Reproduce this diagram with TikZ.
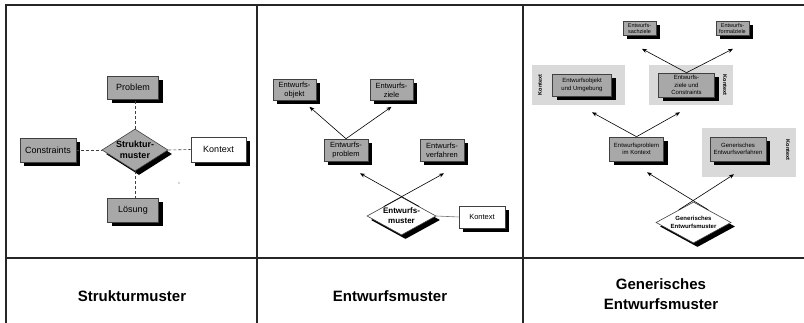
\documentclass[tikz,border=0pt]{standalone}
\usepackage{fontspec}
\setmainfont{Liberation Sans}
\usetikzlibrary{shapes.geometric,shadows,arrows.meta}
\definecolor{boxgray}{gray}{0.66}
\definecolor{bggray}{gray}{0.85}
\definecolor{edgegray}{gray}{0.25}
\begin{document}
\begin{tikzpicture}[x=1pt,y=-1pt,
  rule/.style={line width=1.3pt, draw=black!85},
  shadowed/.style={drop shadow={shadow xshift=4pt,shadow yshift=-4pt,fill=black,opacity=1}},
  gbox/.style={rectangle, draw=edgegray, line width=0.6pt, fill=boxgray, inner sep=0pt, align=center, shadowed},
  wbox/.style={gbox, fill=white},
  gdia/.style={diamond, draw=edgegray, line width=0.6pt, fill=boxgray, inner sep=0pt, shadowed},
  wdia/.style={gdia, fill=white},
  dtext/.style={align=center, inner sep=0pt, font=\bfseries},
  bgpanel/.style={fill=bggray, draw=none},
  ctx/.style={font=\bfseries\fontsize{5.5}{6}\selectfont, inner sep=0pt},
  link/.style={draw=edgegray, line width=0.6pt, dash pattern=on 3pt off 2pt},
  arr/.style={draw=black, line width=0.6pt, -{Stealth[length=5pt,width=4pt]}},
  title/.style={font=\bfseries\fontsize{15}{20.5}\selectfont, align=center, inner sep=0pt}
]
\useasboundingbox (0,0) rectangle (804,323);

% table rules
\draw[rule] (6,323) -- (6,5) -- (804,5);
\draw[rule] (257,5) -- (257,323);
\draw[rule] (523,5) -- (523,323);
\draw[rule] (6,258) -- (804,258);

% column titles
\node[title] (t1) at (132,296) {Strukturmuster};
\node[title] (t2) at (390,296) {Entwurfsmuster};
\node[title] (t3) at (661,294) {Generisches\\Entwurfsmuster};

% ---- Strukturmuster ----
\begin{scope}[every node/.append style={font=\fontsize{9}{10.5}\selectfont}]
\node[gbox, minimum width=51pt, minimum height=23pt] (prob) at (133,87.5) {Problem};
\node[gbox, minimum width=56pt, minimum height=24pt] (cons) at (48,150) {Constraints};
\node[wbox, minimum width=55pt, minimum height=25pt] (kon1) at (218.5,149.5) {Kontext};
\node[gbox, minimum width=51pt, minimum height=24pt] (loes) at (133,210) {Lösung};
\end{scope}
\node[gdia, minimum width=66pt, minimum height=42pt] (sm) at (135,150) {};
\node[dtext, font=\bfseries\fontsize{9}{10.5}\selectfont] (smt) at (sm) {Struktur-\\muster};
\draw[link] (sm.north) -- (sm.north |- prob.south);
\draw[link] (sm.south) -- (sm.south |- loes.north);
\draw[link] (cons.east) -- (sm.west);
\draw[link] (sm.east) -- (kon1.west);
\fill[black!70] (179,183) circle (0.6);

% ---- Entwurfsmuster ----
\begin{scope}[every node/.append style={font=\fontsize{7.5}{9}\selectfont}]
\node[gbox, minimum width=43pt, minimum height=21pt] (eobj) at (294.5,90) {Entwurfs-\\objekt};
\node[gbox, minimum width=43pt, minimum height=21pt] (ezie) at (391.5,90) {Entwurfs-\\ziele};
\node[gbox, minimum width=44pt, minimum height=22pt] (eprob) at (346,150) {Entwurfs-\\problem};
\node[gbox, minimum width=44pt, minimum height=22pt] (ever) at (442,150) {Entwurfs-\\verfahren};
\node[wbox, minimum width=46pt, minimum height=22pt] (kon2) at (482,217) {Kontext};
\end{scope}
\node[wdia, minimum width=69pt, minimum height=38pt] (em) at (401.5,216) {};
\node[dtext, font=\bfseries\fontsize{8}{10}\selectfont] (emt) at (em) {Entwurfs-\\muster};
\draw[arr] (eprob.north) -- ([xshift=15pt,yshift=-6pt]eobj.south);
\draw[arr] (eprob.north) -- ([yshift=-6pt]ezie.south);
\draw[arr] (em.28) -- ([xshift=14pt,yshift=-12pt]eprob.south);
\draw[arr] (em.152) -- ([xshift=2pt,yshift=-12pt]ever.south);
\draw[draw=black!55, line width=0.6pt] (em.east) -- (kon2.west);

% ---- Generisches Entwurfsmuster ----
\fill[bgpanel] (532,65) rectangle (625,105);
\fill[bgpanel] (649,65) rectangle (733,105);
\fill[bgpanel] (702,128) rectangle (796,177);
\node[ctx, rotate=90] (k1) at (540,85) {Kontext};
\node[ctx, rotate=-90] (k2) at (725,85) {Kontext};
\node[ctx, rotate=-90] (k3) at (788,150) {Kontext};
\begin{scope}[every node/.append style={font=\fontsize{5.5}{6.5}\selectfont}]
\node[gbox, minimum width=33pt, minimum height=14pt, drop shadow={shadow xshift=3.5pt,shadow yshift=-3.5pt,fill=black,opacity=1}] (sach) at (639.5,28.5) {Entwurfs-\\sachziele};
\node[gbox, minimum width=33pt, minimum height=14pt, drop shadow={shadow xshift=3.5pt,shadow yshift=-3.5pt,fill=black,opacity=1}] (form) at (732.5,28.5) {Entwurfs-\\formalziele};
\end{scope}
\begin{scope}[every node/.append style={font=\fontsize{6}{7.2}\selectfont}]
\node[gbox, minimum width=59pt, minimum height=22pt] (gobj) at (582,85) {Entwurfsobjekt\\und Umgebung};
\node[gbox, minimum width=56pt, minimum height=24pt] (gzie) at (686.5,85) {Entwurfs-\\ziele und\\Constraints};
\node[gbox, minimum width=54pt, minimum height=24pt] (gprob) at (636.5,149) {Entwurfsproblem\\im Kontext};
\node[gbox, minimum width=56pt, minimum height=24pt] (gver) at (738,149) {Generisches\\Entwurfsverfahren};
\end{scope}
\node[wdia, minimum width=75pt, minimum height=41pt] (gm) at (693.5,222.5) {};
\node[dtext, font=\bfseries\fontsize{6}{7.5}\selectfont] (gmt) at (gm) {Generisches\\Entwurfsmuster};
\draw[arr] (gzie.north) -- ([xshift=2.5pt,yshift=-13pt]sach.south);
\draw[arr] (gzie.north) -- ([xshift=0.5pt,yshift=-13pt]form.south);
\draw[arr] (gprob.north) -- ([xshift=10pt,yshift=-16pt]gobj.south);
\draw[arr] (gprob.north) -- ([xshift=-6.5pt,yshift=-15pt]gzie.south);
\draw[arr] (gm.41) -- ([xshift=10.5pt,yshift=-11pt]gprob.south);
\draw[arr] (gm.139) -- ([xshift=-4pt,yshift=-13pt]gver.south);
\end{tikzpicture}
\end{document}
